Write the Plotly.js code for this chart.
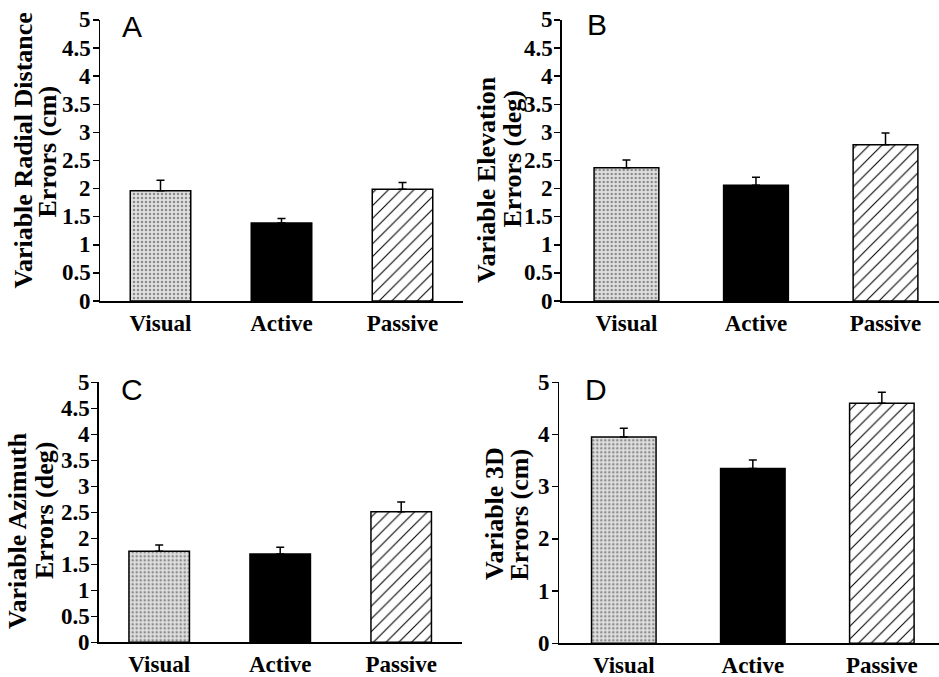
<!DOCTYPE html>
<html>
<head>
<meta charset="utf-8">
<script src="https://cdn.plot.ly/plotly-3.0.1.min.js"></script>
<style>html,body{margin:0;padding:0;background:#fff;}#chart{width:939px;height:677px;}</style>
</head>
<body>
<div id="chart"></div>
<script>
// ---- data ----
var categories = ['Visual', 'Active', 'Passive'];
var radialValues = [1.96, 1.39, 1.99];
var radialErrors = [0.19, 0.08, 0.12];
var elevationValues = [2.37, 2.06, 2.78];
var elevationErrors = [0.14, 0.14, 0.21];
var azimuthValues = [1.75, 1.70, 2.51];
var azimuthErrors = [0.12, 0.13, 0.19];
var threeDValues = [3.95, 3.35, 4.60];
var threeDErrors = [0.17, 0.16, 0.21];
var yTickLabelsHalf = ['0', '0.5', '1', '1.5', '2', '2.5', '3', '3.5', '4', '4.5', '5'];
var yTickLabelsWhole = ['0', '1', '2', '3', '4', '5'];
var panelLetters = ['A', 'B', 'C', 'D'];
var titleLine1 = ['Variable Radial Distance', 'Variable Elevation', 'Variable Azimuth', 'Variable 3D'];
var titleLine2 = ['Errors (cm)', 'Errors (deg)', 'Errors (deg)', 'Errors (cm)'];

// ---- styling ----
var W = 939, H = 677;
var SERIF = 'Liberation Serif';
function sb(size) { return {family: SERIF, weight: 'bold', size: size, color: '#000'}; }

var barStyles = [
  {color: '#e0e0e0', pattern: {shape: '.', fgcolor: '#8a8a8a', bgcolor: '#e0e0e0', size: 4, solidity: 0.3, fillmode: 'replace'}},
  {color: '#000000'},
  {color: '#ffffff', pattern: {shape: '/', fgcolor: '#000000', bgcolor: '#ffffff', size: 9, solidity: 0.12, fillmode: 'replace'}}
];

var panels = [
  {vals: radialValues, errs: radialErrors, xa: 'x', ya: 'y', labels: yTickLabelsHalf, axisPx: 100},
  {vals: elevationValues, errs: elevationErrors, xa: 'x2', ya: 'y2', labels: yTickLabelsHalf, axisPx: 561.7},
  {vals: azimuthValues, errs: azimuthErrors, xa: 'x3', ya: 'y3', labels: yTickLabelsHalf, axisPx: 98.7},
  {vals: threeDValues, errs: threeDErrors, xa: 'x4', ya: 'y4', labels: yTickLabelsWhole, axisPx: 559.3}
];

var data = [];
panels.forEach(function(p) {
  for (var i = 0; i < categories.length; i++) {
    var st = barStyles[i];
    var marker = {color: st.color, line: {color: '#000', width: 1.5}};
    if (st.pattern) marker.pattern = st.pattern;
    data.push({
      type: 'bar', x: [categories[i]], y: [p.vals[i]], xaxis: p.xa, yaxis: p.ya, width: 0.5,
      marker: marker,
      error_y: {type: 'data', symmetric: false, array: [p.errs[i]], arrayminus: [0],
        color: '#000', thickness: 1.5, width: 4},
      showlegend: false, hoverinfo: 'skip'
    });
  }
});

var boundaries = categories.map(function(c, i) { return i + 0.5; });

function xAxis(domain, range, anchor) {
  return {
    domain: domain, range: range, anchor: anchor, type: 'category',
    categoryorder: 'array', categoryarray: categories,
    ticks: '', showline: true, linewidth: 2, linecolor: '#000', showgrid: false, zeroline: false,
    tickfont: sb(23)
  };
}
function xTickAxis(domain, range, anchor, over) {
  return {
    domain: domain, range: range, anchor: anchor, overlaying: over, type: 'linear',
    tickmode: 'array', tickvals: boundaries, showticklabels: false,
    ticks: 'outside', ticklen: 7, tickwidth: 1.2, tickcolor: '#000',
    showline: false, showgrid: false, zeroline: false
  };
}
function yAxis(domain, labels, anchor) {
  return {
    domain: domain, range: [0, 5], anchor: anchor,
    tickmode: 'array', tickvals: labels.map(parseFloat), showticklabels: false,
    ticks: 'outside', ticklen: 6, tickwidth: 1.5, tickcolor: '#000',
    showline: true, linewidth: 1.5, linecolor: '#000', showgrid: false, zeroline: false
  };
}
function yMinorAxis(domain, step, anchor, over) {
  var vals = [];
  for (var v = 0; v <= 5 + 1e-9; v += step) vals.push(Math.round(v * 100) / 100);
  return {
    domain: domain, range: [0, 5], anchor: anchor, overlaying: over, side: 'left',
    tickmode: 'array', tickvals: vals, showticklabels: false,
    ticks: 'outside', ticklen: 3, tickwidth: 1, tickcolor: '#000',
    showline: false, showgrid: false, zeroline: false
  };
}

var yTop = [(H - 301) / H, (H - 20) / H];
var yBotC = [(H - 642.3) / H, (H - 382.3) / H];
var yBotD = [(H - 643.3) / H, (H - 382.3) / H];
var dA = [100 / W, 463 / W], dB = [561.7 / W, 1], dC = [98.7 / W, 461.7 / W], dD = [559.3 / W, 1];
var rA = [-0.5, 2.5], rB = [-0.5, 2.413], rC = [-0.5, 2.5], rD = [-0.5, 2.443];

var layout = {
  width: W, height: H, margin: {l: 0, r: 0, t: 0, b: 0},
  font: sb(23),
  paper_bgcolor: '#fff', plot_bgcolor: 'rgba(0,0,0,0)', barmode: 'overlay', showlegend: false,
  xaxis: xAxis(dA, rA, 'y'),
  yaxis: yAxis(yTop, yTickLabelsHalf, 'x'),
  xaxis2: xAxis(dB, rB, 'y2'),
  yaxis2: yAxis(yTop, yTickLabelsHalf, 'x2'),
  xaxis3: xAxis(dC, rC, 'y3'),
  yaxis3: yAxis(yBotC, yTickLabelsHalf, 'x3'),
  xaxis4: xAxis(dD, rD, 'y4'),
  yaxis4: yAxis(yBotD, yTickLabelsWhole, 'x4'),
  xaxis5: xTickAxis(dA, rA, 'y', 'x'),
  xaxis6: xTickAxis(dB, rB, 'y2', 'x2'),
  xaxis7: xTickAxis(dC, rC, 'y3', 'x3'),
  xaxis8: xTickAxis(dD, rD, 'y4', 'x4'),
  yaxis5: yMinorAxis(yTop, 0.25, 'x', 'y'),
  yaxis6: yMinorAxis(yTop, 0.25, 'x2', 'y2'),
  yaxis7: yMinorAxis(yBotC, 0.25, 'x3', 'y3'),
  yaxis8: yMinorAxis(yBotD, 0.5, 'x4', 'y4'),
  annotations: []
};

// y tick labels placed through each panel's y scale
panels.forEach(function(p) {
  p.labels.forEach(function(lbl) {
    layout.annotations.push({
      text: '<b>' + lbl + '</b>', xref: 'paper', yref: p.ya, x: (p.axisPx - 7) / W, y: parseFloat(lbl),
      xanchor: 'right', yanchor: 'middle', showarrow: false, font: sb(23)
    });
  });
});

var letterPos = [[132, 26], [597, 24], [132, 389], [596, 389]];
var line1Pos = [[22.5, 151], [486, 179], [17, 531], [494, 514]];
var line2Pos = [[47.5, 152], [511.5, 159], [45, 511], [518.5, 515]];
for (var i = 0; i < 4; i++) {
  layout.annotations.push({
    text: panelLetters[i], xref: 'paper', yref: 'paper', showarrow: false,
    x: letterPos[i][0] / W, y: 1 - letterPos[i][1] / H, xanchor: 'center', yanchor: 'middle',
    font: {family: 'Liberation Sans', weight: 'normal', size: 30, color: '#000'}
  });
  layout.annotations.push({
    text: titleLine1[i], xref: 'paper', yref: 'paper', showarrow: false, textangle: -90,
    x: line1Pos[i][0] / W, y: 1 - line1Pos[i][1] / H, xanchor: 'center', yanchor: 'middle',
    font: sb(26)
  });
  layout.annotations.push({
    text: titleLine2[i], xref: 'paper', yref: 'paper', showarrow: false, textangle: -90,
    x: line2Pos[i][0] / W, y: 1 - line2Pos[i][1] / H, xanchor: 'center', yanchor: 'middle',
    font: sb(26)
  });
}

Plotly.newPlot('chart', data, layout, {staticPlot: true, displayModeBar: false});
</script>
</body>
</html>
